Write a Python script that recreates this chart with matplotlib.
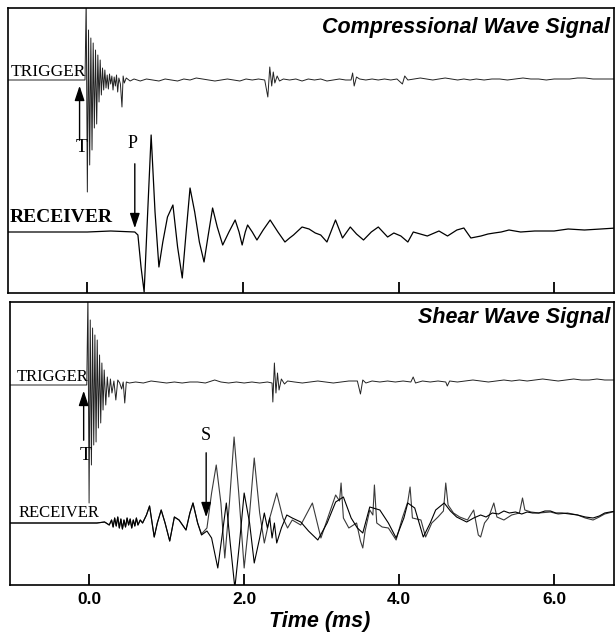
import matplotlib
matplotlib.use('Agg')
import matplotlib.pyplot as plt

# tiempos en ms, amplitudes en unidades arbitrarias (relativas a la linea base)
trig_p = [(-1.05, 0), (-0.5, 0), (-0.03, 0), (-0.015, 80), (0.0, -112), (0.015, 50), (0.03, -85),
          (0.045, 42), (0.06, -70), (0.075, 37), (0.09, -48), (0.105, 30), (0.12, -44), (0.135, 25),
          (0.15, -22), (0.165, 20), (0.18, -15), (0.195, 12), (0.21, -10), (0.225, 10), (0.24, -8),
          (0.255, 5), (0.27, -9), (0.285, 6), (0.3, -4), (0.315, 4), (0.33, -10), (0.345, 3),
          (0.36, -6), (0.375, 5), (0.39, -12), (0.405, 2), (0.425, -4), (0.445, -27), (0.46, 4),
          (0.475, -3), (0.5, 2), (0.55, -1), (0.6, 1), (0.68, -1), (0.76, 1), (0.84, 0), (0.92, -1),
          (1.0, 1), (1.08, 0), (1.16, -1), (1.24, 1), (1.32, 0), (1.4, 2), (1.48, 1), (1.56, 0),
          (1.64, -1), (1.72, 0), (1.8, 1), (1.88, 0), (1.96, -1), (2.04, 1), (2.12, 0), (2.2, 1),
          (2.28, 0), (2.32, -17), (2.345, 13), (2.37, -6), (2.39, 8), (2.41, -3), (2.44, 4),
          (2.47, -1), (2.52, 1), (2.6, 0), (2.68, 1), (2.76, -1), (2.84, 1), (2.92, 0), (3.0, 1),
          (3.08, -1), (3.16, 0), (3.24, 1), (3.32, 0), (3.39, 0), (3.41, 7), (3.43, -6), (3.46, 3),
          (3.5, 1), (3.58, 0), (3.66, 1), (3.74, 0), (3.82, 1), (3.9, 0), (3.98, 1), (4.05, -4),
          (4.08, 4), (4.12, 0), (4.2, 1), (4.28, 2), (4.36, 1), (4.44, 0), (4.52, 1), (4.6, 2),
          (4.68, 1), (4.76, 0), (4.84, 1), (4.92, 0), (5.0, 1), (5.1, 0), (5.2, 1), (5.3, 1),
          (5.4, 0), (5.5, 1), (5.6, 2), (5.7, 1), (5.8, 1), (5.9, 0), (6.0, 1), (6.1, 1), (6.2, 1),
          (6.3, 2), (6.4, 2), (6.5, 1), (6.6, 1), (6.7, 1), (6.8, 1)]

recv_p = [(-1.05, 0), (0.0, 0), (0.3, 1), (0.61, 0), (0.65, -3), (0.69, -35), (0.73, -60),
          (0.77, 10), (0.82, 97), (0.87, 20), (0.92, -35), (0.97, -10), (1.03, 15), (1.10, 27),
          (1.16, -15), (1.22, -46), (1.27, 0), (1.32, 44), (1.38, 20), (1.44, -10), (1.50, -30),
          (1.55, -5), (1.61, 24), (1.67, 5), (1.74, -13), (1.82, 0), (1.90, 12), (1.95, 0),
          (1.99, -13), (2.03, 0), (2.06, 7), (2.12, 0), (2.18, -8), (2.26, 2), (2.35, 12),
          (2.45, 0), (2.54, -10), (2.60, -6), (2.65, -3), (2.76, 5), (2.85, 3), (2.93, -1),
          (3.00, -3), (3.08, -10), (3.19, 12), (3.28, -6), (3.38, 5), (3.46, -2), (3.55, -8),
          (3.65, 0), (3.74, 5), (3.80, 0), (3.86, -5), (3.94, -1), (4.03, -4), (4.12, -10),
          (4.19, 0), (4.28, -2), (4.37, -4), (4.52, 1), (4.63, -4), (4.75, 2), (4.84, 4),
          (4.93, -6), (5.06, -4), (5.15, -2), (5.23, -1), (5.32, 0), (5.42, 2), (5.57, 0),
          (5.75, 1), (6.00, 1), (6.18, 3), (6.39, 2), (6.60, 3), (6.80, 4)]

trig_s = [(-1.05, 0), (-0.5, 0), (-0.03, 0), (-0.015, 90), (0.0, -118), (0.015, 65), (0.03, -80),
          (0.045, 57), (0.06, -60), (0.075, 50), (0.09, -57), (0.105, 45), (0.12, -43), (0.135, 30),
          (0.15, -38), (0.165, 22), (0.18, -25), (0.195, 15), (0.215, -20), (0.235, 8), (0.255, -12),
          (0.275, 6), (0.295, -8), (0.32, 4), (0.345, -15), (0.37, 5), (0.395, 2), (0.42, -4),
          (0.44, 3), (0.46, -18), (0.48, 3), (0.52, 2), (0.6, 3), (0.7, 2), (0.8, 4), (0.9, 3),
          (1.0, 2), (1.1, 3), (1.2, 2), (1.3, 3), (1.4, 3), (1.5, 2), (1.62, 5), (1.7, 3), (1.8, 2),
          (1.9, 3), (2.0, 2), (2.1, 3), (2.2, 2), (2.3, 3), (2.36, 2), (2.37, -17), (2.39, 22),
          (2.41, -8), (2.43, 12), (2.45, -5), (2.48, 6), (2.52, 1), (2.56, 4), (2.65, 3), (2.75, 2),
          (2.85, 3), (2.95, 4), (3.05, 3), (3.15, 2), (3.25, 3), (3.35, 4), (3.46, 4), (3.5, -9),
          (3.53, 5), (3.57, 2), (3.65, 4), (3.75, 3), (3.85, 4), (3.95, 3), (4.05, 4), (4.15, 3),
          (4.18, 8), (4.21, 2), (4.3, 4), (4.4, 3), (4.5, 4), (4.6, 3), (4.62, -1), (4.65, 4),
          (4.75, 3), (4.85, 4), (4.95, 5), (5.05, 4), (5.15, 3), (5.25, 4), (5.35, 5), (5.45, 4),
          (5.55, 5), (5.65, 4), (5.75, 5), (5.85, 6), (5.95, 5), (6.05, 4), (6.15, 5), (6.25, 6),
          (6.35, 5), (6.45, 5), (6.55, 6), (6.65, 5), (6.8, 5)]

# parte comun de los dos registros del receptor (antes de la onda S)
recv_s_pre = [(-1.05, 0), (0.1, 0), (0.2, 1), (0.26, -2), (0.29, 3), (0.31, -4), (0.33, 5),
              (0.35, -3), (0.37, 6), (0.39, -5), (0.41, 4), (0.43, -6), (0.45, 3), (0.47, -4),
              (0.49, 5), (0.51, -2), (0.53, 4), (0.55, -5), (0.57, 3), (0.59, -3), (0.61, 5),
              (0.63, -2), (0.66, 3), (0.69, 0), (0.74, 8), (0.78, 17), (0.84, -14), (0.88, 0),
              (0.93, 13), (0.98, 0), (1.04, -18), (1.10, 6), (1.16, 3), (1.25, -7), (1.30, 10),
              (1.34, 20), (1.40, 0)]

recv_s_a = [(1.45, -11), (1.52, -5), (1.58, 30), (1.64, 58), (1.70, 20), (1.75, -35), (1.81, 20),
            (1.87, 86), (1.93, 30), (2.0, -45), (2.06, 0), (2.13, 65), (2.20, 10), (2.26, -20),
            (2.33, 5), (2.42, 30), (2.50, 5), (2.56, -5), (2.62, 3), (2.73, -2), (2.88, 20),
            (2.99, -15), (3.1, 10), (3.18, 28), (3.23, 22), (3.25, 40), (3.28, 5), (3.35, -5),
            (3.45, 0), (3.50, -18), (3.53, -25), (3.56, -8), (3.62, 13), (3.66, 8), (3.68, 38),
            (3.71, 0), (3.78, -4), (3.86, -5), (3.96, -17), (4.04, 5), (4.11, 21), (4.14, 36),
            (4.17, 5), (4.28, 3), (4.34, -14), (4.42, 0), (4.50, 6), (4.57, 12), (4.60, 40),
            (4.63, 18), (4.70, 10), (4.78, 6), (4.88, 3), (4.96, 13), (5.02, -12), (5.05, -14),
            (5.1, 0), (5.15, 5), (5.22, 20), (5.26, 6), (5.35, 3), (5.45, 8), (5.55, 10),
            (5.59, 25), (5.62, 13), (5.70, 11), (5.80, 10), (5.95, 11), (6.05, 9), (6.17, 10),
            (6.3, 8), (6.40, 5), (6.50, 3), (6.58, 6), (6.65, 9), (6.75, 11), (6.8, 12)]

recv_s_b = [(1.45, -12), (1.52, -8), (1.58, -15), (1.66, -45), (1.72, -10), (1.77, 20), (1.82, -20),
            (1.88, -65), (1.94, -20), (2.0, 30), (2.07, 0), (2.13, -40), (2.20, -15), (2.26, 10),
            (2.30, -5), (2.33, 5), (2.36, -15), (2.39, 0), (2.42, -20), (2.48, -5), (2.55, 8),
            (2.62, 5), (2.73, 1), (2.83, -8), (2.95, -17), (3.07, 0), (3.18, 21), (3.28, 26),
            (3.38, 5), (3.46, -5), (3.53, -10), (3.62, 16), (3.75, 13), (3.86, 0), (3.96, -15),
            (4.06, 5), (4.11, 20), (4.20, 15), (4.31, -14), (4.40, 0), (4.47, 13), (4.58, 20),
            (4.66, 12), (4.74, 6), (4.87, 1), (4.96, 5), (5.05, 8), (5.12, 6), (5.20, 10),
            (5.28, 9), (5.35, 12), (5.42, 10), (5.50, 11), (5.58, 9), (5.65, 11), (5.72, 10),
            (5.80, 10), (5.88, 12), (5.95, 12), (6.02, 10), (6.10, 10), (6.2, 9), (6.30, 8),
            (6.40, 6), (6.50, 5), (6.58, 7), (6.65, 10), (6.72, 11), (6.8, 12)]

xticks = [0, 2, 4, 6]
xtick_labels = ['0.0', '2.0', '4.0', '6.0']

# posiciones de las lineas base en cada panel
BASE_TRIG_P, BASE_RECV_P = 213, 61
BASE_TRIG_S, BASE_RECV_S = 200, 62
XMIN, XMAX = -1.02, 6.77

serif = 'Liberation Serif'
sans = 'Liberation Sans'


def dibujar(ax, datos, base, color='black', lw=0.8):
    t = [p[0] for p in datos]
    v = [base + p[1] for p in datos]
    ax.plot(t, v, color=color, lw=lw)


def flecha(ax, x, y0, y1):
    ax.annotate('', xy=(x, y1), xytext=(x, y0),
                arrowprops=dict(arrowstyle='-|>,head_length=0.9,head_width=0.3',
                                color='black', lw=1.0, mutation_scale=10))


fig = plt.figure(figsize=(6.16, 6.35), dpi=100)
ax1 = fig.add_axes([8 / 616, 1 - 293 / 635, 606 / 616, 285 / 635])
ax2 = fig.add_axes([10 / 616, 1 - 585 / 635, 604 / 616, 283 / 635])

for ax in (ax1, ax2):
    ax.set_xlim(XMIN, XMAX)
    ax.set_yticks([])
    ax.set_xticks(xticks)
    ax.tick_params(axis='x', direction='in', length=8, width=1.3, pad=5)
    for s in ax.spines.values():
        s.set_linewidth(1.2)

ax1.set_ylim(0, 285)
ax2.set_ylim(0, 283)
ax1.set_xticklabels([])
ax2.set_xticklabels(xtick_labels, fontfamily=sans, fontweight='bold', fontsize=12.5)

# panel superior: onda compresional
dibujar(ax1, trig_p, BASE_TRIG_P, color='#222222', lw=0.7)
dibujar(ax1, recv_p, BASE_RECV_P, lw=0.9)
ax1.text(-0.99, BASE_TRIG_P + 8, 'TRIGGER', fontfamily=serif, fontsize=12.5, ha='left', va='center')
ax1.text(-1.0, BASE_RECV_P + 14, 'RECEIVER', fontfamily=serif, fontweight='bold', fontsize=14,
         ha='left', va='center')
ax1.text(6.72, 266, 'Compressional Wave Signal', fontfamily=sans, fontweight='bold',
         fontstyle='italic', fontsize=15.5, ha='right', va='center')
flecha(ax1, -0.1, 150, BASE_TRIG_P - 3)
ax1.text(-0.07, 145, 'T', fontfamily=serif, fontsize=14, ha='center', va='center')
flecha(ax1, 0.61, 132, BASE_RECV_P + 1)
ax1.text(0.585, 149, 'P', fontfamily=serif, fontsize=13, ha='center', va='center')

# panel inferior: onda de corte
dibujar(ax2, trig_s, BASE_TRIG_S, color='#222222', lw=0.7)
dibujar(ax2, recv_s_pre + recv_s_a, BASE_RECV_S, color='#3a3a3a', lw=0.8)
dibujar(ax2, recv_s_pre + recv_s_b, BASE_RECV_S, color='black', lw=0.8)
ax2.text(-0.93, BASE_TRIG_S + 8, 'TRIGGER', fontfamily=serif, fontsize=12, ha='left', va='center')
ax2.text(-0.91, BASE_RECV_S + 10, 'RECEIVER', fontfamily=serif, fontsize=12, ha='left', va='center')
ax2.text(6.72, 268, 'Shear Wave Signal', fontfamily=sans, fontweight='bold',
         fontstyle='italic', fontsize=15.5, ha='right', va='center')
flecha(ax2, -0.07, 142, BASE_TRIG_S - 3)
ax2.text(-0.04, 130, 'T', fontfamily=serif, fontsize=14, ha='center', va='center')
flecha(ax2, 1.51, 135, BASE_RECV_S + 3)
ax2.text(1.51, 150, 'S', fontfamily=serif, fontsize=13, ha='center', va='center')

fig.text(320 / 616, 1 - 622 / 635, 'Time (ms)', fontfamily=sans, fontweight='bold',
         fontstyle='italic', fontsize=15.5, ha='center', va='center')

fig.savefig('out.png', dpi=100)
